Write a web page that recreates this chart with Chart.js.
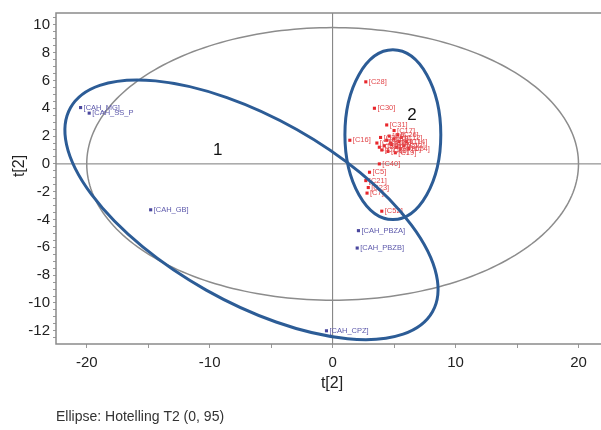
<!DOCTYPE html>
<html>
<head>
<meta charset="utf-8">
<script src="https://cdn.jsdelivr.net/npm/chart.js@4.4.0/dist/chart.umd.min.js"></script>
<style>
    html, body { margin: 0; padding: 0; background: #fff; overflow: hidden; }
    #wrap { position: relative; width: 612px; height: 430px; }
</style>
</head>
<body>
<div id="wrap"><canvas id="scoreChart" width="612" height="430"></canvas></div>
<script>
// score values
const blueNames = ["[CAH_MG]", "[CAH_SS_P", "[CAH_GB]", "[CAH_PBZA]", "[CAH_PBZB]", "[CAH_CPZ]"];
const blueX = [-20.5, -19.8, -14.8, 2.1, 2.0, -0.5];
const blueY = [4.05, 3.65, -3.3, -4.8, -6.05, -12.0];

const redNames = ["[C28]", "[C30]", "[C31]", "[C17]", "[C16]",
    "[C1]", "[C2]", "[C3]", "[C4]", "[C6]", "[C8]", "[C9]", "[C10]", "[C11]", "[C12]",
    "[C13]", "[C14]", "[C15]", "[C18]", "[C19]", "[C20]", "[C22]", "[C24]", "[C25]", "[C26]",
    "[C40]", "[C5]", "[C21]", "[C23]", "[C7]", "[C52]"];
const redX = [2.7, 3.4, 4.4, 5.0, 1.4,
    3.6, 3.9, 4.2, 4.4, 4.6, 4.8, 5.0, 5.2, 5.4, 5.6,
    5.8, 6.0, 4.0, 4.5, 5.1, 5.5, 3.8, 6.2, 4.7, 5.3,
    3.8, 3.0, 2.7, 2.9, 2.8, 4.0];
const redY = [5.9, 4.0, 2.8, 2.4, 1.7,
    1.5, 1.9, 1.3, 1.7, 2.0, 1.4, 1.8, 1.2, 1.6, 1.9,
    1.3, 1.6, 1.0, 0.9, 0.8, 1.1, 1.2, 1.1, 1.5, 2.1,
    0.0, -0.6, -1.2, -1.7, -2.1, -3.4];

const xTickLabels = [-20, -10, 0, 10, 20];
const yTickLabels = [10, 8, 6, 4, 2, 0, -2, -4, -6, -8, -10, -12];

// hotelling T2 ellipse (data units) and the two hand drawn group rings
const hotelling = { rx: 20, ry: 9.8 };
const groups = [
    { label: "1", cx: -6.6, cy: -3.3, a: 16.9, b: 7.5, angle: 29.4, tx: -9.35, ty: 1.0 },
    { label: "2", cx: 4.9, cy: 2.1, a: 3.9, b: 6.9, angle: 0, tx: 6.45, ty: 3.5 }
];

const FONT = "'Liberation Sans', Arial, Helvetica, sans-serif";

const pts = (xs, ys) => xs.map((x, i) => ({ x: x, y: ys[i] }));

const scorePlugin = {
    id: 'scorePlugin',
    beforeDatasetsDraw(chart) {
        const { ctx, chartArea: area, scales: { x, y } } = chart;
        ctx.save();
        ctx.beginPath();
        ctx.rect(area.left, area.top, area.right - area.left, area.bottom - area.top);
        ctx.clip();

        // zero lines
        ctx.strokeStyle = '#7a7a7a';
        ctx.lineWidth = 1;
        ctx.beginPath();
        ctx.moveTo(x.getPixelForValue(0), area.top);
        ctx.lineTo(x.getPixelForValue(0), area.bottom);
        ctx.moveTo(area.left, y.getPixelForValue(0));
        ctx.lineTo(area.right, y.getPixelForValue(0));
        ctx.stroke();

        // hotelling ellipse
        ctx.strokeStyle = '#8c8c8c';
        ctx.lineWidth = 1.5;
        ctx.beginPath();
        for (let k = 0; k <= 240; k++) {
            const t = k / 240 * Math.PI * 2;
            const px = x.getPixelForValue(hotelling.rx * Math.cos(t));
            const py = y.getPixelForValue(hotelling.ry * Math.sin(t));
            if (k === 0) ctx.moveTo(px, py); else ctx.lineTo(px, py);
        }
        ctx.stroke();
        ctx.restore();
    },
    afterDatasetsDraw(chart) {
        const { ctx, scales: { x, y } } = chart;
        const pxPerUnit = Math.abs(x.getPixelForValue(1) - x.getPixelForValue(0));
        ctx.save();

        // point labels
        ctx.font = '7.5px ' + FONT;
        ctx.textBaseline = 'middle';
        ctx.textAlign = 'left';
        const names = [blueNames, redNames];
        const labelColors = ['#5d59ab', '#e2484c'];
        chart.data.datasets.forEach((ds, di) => {
            ctx.fillStyle = labelColors[di];
            chart.getDatasetMeta(di).data.forEach((el, i) => {
                ctx.fillText(names[di][i], el.x + 3, el.y);
            });
        });

        // group rings
        ctx.strokeStyle = '#2c5c96';
        ctx.lineWidth = 3;
        groups.forEach(g => {
            ctx.beginPath();
            ctx.ellipse(x.getPixelForValue(g.cx), y.getPixelForValue(g.cy),
                g.a * pxPerUnit, g.b * pxPerUnit, g.angle * Math.PI / 180, 0, Math.PI * 2);
            ctx.stroke();
        });

        ctx.fillStyle = '#111';
        ctx.font = '17px ' + FONT;
        ctx.textAlign = 'center';
        groups.forEach(g => {
            ctx.fillText(g.label, x.getPixelForValue(g.tx), y.getPixelForValue(g.ty));
        });
        ctx.restore();
    },
    afterDraw(chart) {
        const { ctx, chartArea: area } = chart;
        ctx.save();
        // frame
        ctx.strokeStyle = '#8a8a8a';
        ctx.lineWidth = 1.5;
        ctx.strokeRect(area.left, area.top, area.right - area.left, area.bottom - area.top);

        // y title
        ctx.fillStyle = '#222';
        ctx.font = '16px ' + FONT;
        ctx.textAlign = 'center';
        ctx.textBaseline = 'middle';
        ctx.translate(20, 166);
        ctx.rotate(-Math.PI / 2);
        ctx.fillText('t[2]', 0, 0);
        ctx.restore();

        ctx.save();
        ctx.fillStyle = '#333';
        ctx.font = '14px ' + FONT;
        ctx.textAlign = 'left';
        ctx.textBaseline = 'middle';
        ctx.fillText('Ellipse: Hotelling T2 (0, 95)', 56, 417);
        ctx.restore();
    }
};

const ctxScore = document.getElementById('scoreChart').getContext('2d');
const scoreChart = new Chart(ctxScore, {
    type: 'scatter',
    data: {
        datasets: [
            {
                data: pts(blueX, blueY),
                pointStyle: 'rect',
                pointRadius: 2.2,
                backgroundColor: '#4a479e',
                borderWidth: 0
            },
            {
                data: pts(redX, redY),
                pointStyle: 'rect',
                pointRadius: 2.2,
                backgroundColor: '#e8262b',
                borderWidth: 0
            }
        ]
    },
    options: {
        responsive: false,
        animation: false,
        devicePixelRatio: 1,
        layout: { padding: { top: 13, right: 2, bottom: 0, left: 0 } },
        plugins: {
            legend: { display: false },
            tooltip: { enabled: false }
        },
        scales: {
            x: {
                type: 'linear',
                position: 'bottom',
                min: -22.5,
                max: 22.4,
                afterFit: s => { s.height = 86; },
                border: { display: false },
                grid: { drawOnChartArea: false, tickLength: 4, color: '#999' },
                ticks: {
                    stepSize: 5,
                    autoSkip: false,
                    includeBounds: false,
                    maxRotation: 0,
                    padding: 6,
                    color: '#222',
                    font: { family: FONT, size: 15 },
                    callback: v => xTickLabels.includes(v) ? String(v) : ''
                },
                title: {
                    display: true,
                    text: 't[2]',
                    color: '#222',
                    font: { family: FONT, size: 16 },
                    padding: { top: 0, bottom: 37 }
                }
            },
            y: {
                type: 'linear',
                min: -12.95,
                max: 10.85,
                afterFit: s => { s.width = 56; },
                border: { display: false },
                grid: { drawOnChartArea: false, tickLength: 3, color: '#999' },
                ticks: {
                    stepSize: 0.5,
                    autoSkip: false,
                    includeBounds: false,
                    padding: 3,
                    color: '#222',
                    font: { family: FONT, size: 15 },
                    callback: v => yTickLabels.includes(v) ? String(v) : ''
                }
            }
        }
    },
    plugins: [scorePlugin]
});
</script>
</body>
</html>
